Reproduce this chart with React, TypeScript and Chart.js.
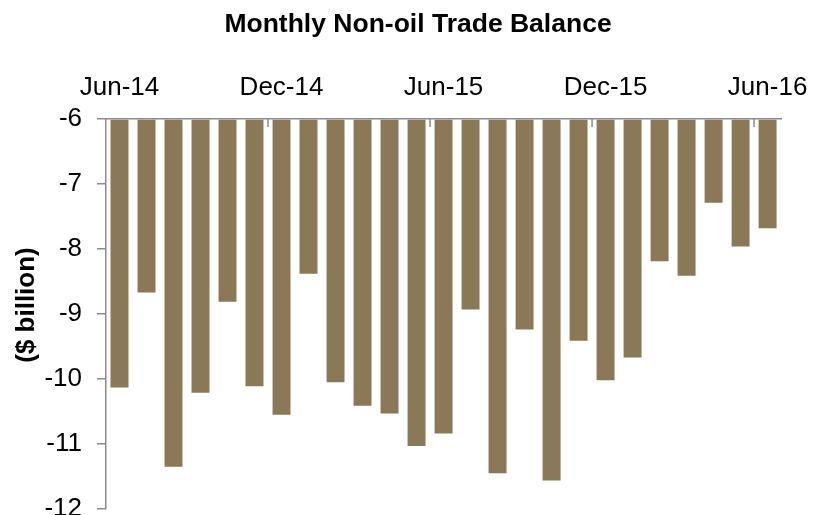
import React, { useEffect, useRef } from "react";
import { Chart, registerables } from "chart.js";

Chart.register(...registerables);

const months: string[] = [
  "Jun-14", "Jul-14", "Aug-14", "Sep-14", "Oct-14", "Nov-14",
  "Dec-14", "Jan-15", "Feb-15", "Mar-15", "Apr-15", "May-15",
  "Jun-15", "Jul-15", "Aug-15", "Sep-15", "Oct-15", "Nov-15",
  "Dec-15", "Jan-16", "Feb-16", "Mar-16", "Apr-16", "May-16", "Jun-16",
];

const balance: number[] = [
  -10.13, -8.67, -11.35, -10.21, -8.81, -10.11,
  -10.55, -8.38, -10.05, -10.41, -10.53, -11.03,
  -10.84, -8.93, -11.45, -9.24, -11.56, -9.41,
  -10.02, -9.67, -8.19, -8.41, -7.29, -7.96, -7.68,
];

const titleText = "Monthly Non-oil Trade Balance";
const yTitleText = "($ billion)";
const labelEvery = 6;
const FONT = "Arial, 'Liberation Sans', Helvetica, sans-serif";
const AXIS = "#8c8c8c";

const decorations = {
  id: "decorations",
  afterDatasetsDraw(chart: any) {
    const x = chart.scales.x;
    const { top, bottom } = chart.chartArea;
    const ctx = chart.ctx;
    ctx.save();
    ctx.strokeStyle = AXIS;
    ctx.lineWidth = 1.5;
    for (let i = labelEvery; i < months.length; i += labelEvery) {
      const px = (x.getPixelForValue(i - 1) + x.getPixelForValue(i)) / 2;
      ctx.beginPath();
      ctx.moveTo(px, top);
      ctx.lineTo(px, top + 8);
      ctx.stroke();
    }
    ctx.restore();
  },
  afterDraw(chart: any) {
    const ctx = chart.ctx;
    const { top, bottom } = chart.chartArea;
    ctx.save();
    ctx.fillStyle = "#000";
    ctx.textAlign = "center";
    ctx.textBaseline = "middle";
    ctx.font = `bold 26.5px ${FONT}`;
    ctx.fillText(titleText, 418, 25);
    ctx.translate(27, (top + bottom) / 2 - 9);
    ctx.rotate(-Math.PI / 2);
    ctx.font = `bold 26px ${FONT}`;
    ctx.fillText(yTitleText, 0, 0);
    ctx.restore();
  },
};

export default function App() {
  const ref = useRef<HTMLCanvasElement | null>(null);
  useEffect(() => {
    document.body.style.margin = "0";
    const chart = new Chart(ref.current!, {
      type: "bar",
      data: {
        labels: months,
        datasets: [
          {
            data: balance,
            base: -6,
            backgroundColor: "#8b7856",
            borderWidth: 0,
            barPercentage: 0.665,
            categoryPercentage: 1,
          } as any,
        ],
      },
      options: {
        animation: false,
        responsive: false,
        layout: { padding: { left: 0, right: 33, top: 50, bottom: 6 } },
        plugins: {
          legend: { display: false },
          tooltip: { enabled: false },
          title: { display: false },
        },
        scales: {
          x: {
            position: "top",
            offset: true,
            grid: { display: false, offset: true },
            border: { display: true, color: AXIS, width: 1.5 },
            ticks: {
              autoSkip: false,
              maxRotation: 0,
              padding: 8,
              color: "#000",
              font: { family: FONT, size: 26 },
              callback: (_v: any, i: number) => (i % labelEvery === 0 ? months[i] : ""),
            },
            afterFit: (s: any) => {
              s.height = 69;
            },
          },
          y: {
            min: -12,
            max: -6,
            grid: {
              drawOnChartArea: false,
              drawTicks: true,
              tickLength: 9,
              color: AXIS,
              lineWidth: 1.5,
            },
            border: { display: true, color: AXIS, width: 1.5 },
            ticks: {
              stepSize: 1,
              padding: 15,
              color: "#000",
              font: { family: FONT, size: 26 },
            },
            afterFit: (s: any) => {
              s.width = 106;
              s.paddingTop = 0;
              s.paddingBottom = 0;
            },
          },
        },
      },
      plugins: [decorations],
    });
    return () => chart.destroy();
  }, []);
  return <canvas ref={ref} width={816} height={515} style={{ display: "block" }} />;
}
